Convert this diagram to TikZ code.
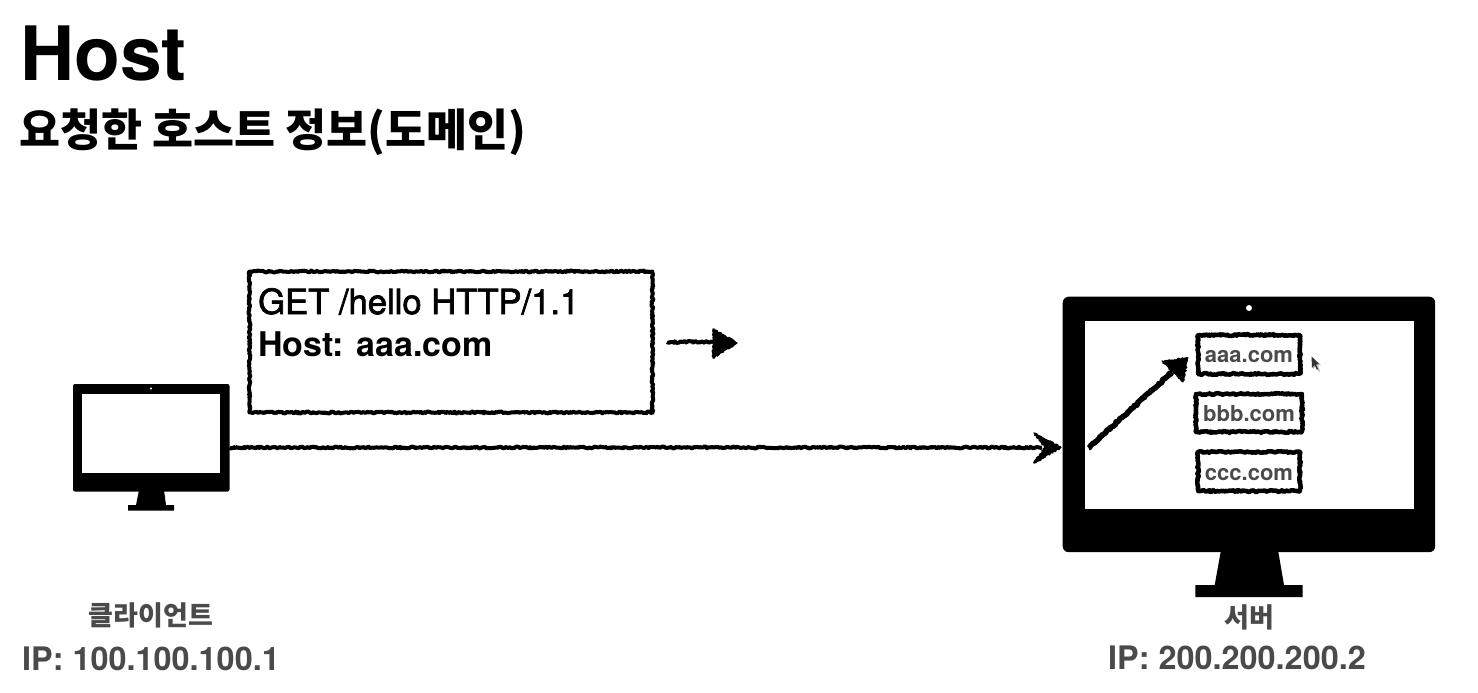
\documentclass[tikz,border=0pt]{standalone}
\usepackage{fontspec}
\setmainfont{TeX Gyre Heros}
\newfontfamily\krfont{Noto Sans CJK KR}
\usetikzlibrary{decorations.pathmorphing}
\definecolor{labelgray}{HTML}{4A4A4A}
\tikzset{
  x=1pt,y=-1pt,
  sketchy/.style={line join=round,decorate,decoration={random steps,segment length=1.4pt,amplitude=.9pt}},
  sketchbox/.style={draw=black,line width=#1,sketchy,fill=white,inner sep=0,outer sep=0,anchor=north west},
  sketchline/.style={draw=black,line width=#1,sketchy},
  sketchhead/.style={fill=black,draw=black,line width=1.2pt,sketchy},
  solidpart/.style={fill=black,draw=none},
  screenpart/.style={fill=white,draw=none,inner sep=0,outer sep=0,anchor=north west},
  bodypart/.style={fill=black,draw=none,inner sep=0,outer sep=0,anchor=north west,rounded corners=#1},
  txt/.style={inner sep=0,anchor=base west,text=black},
  domainlabel/.style={inner sep=0,anchor=base,text=labelgray,font=\fontsize{22}{22}\selectfont\bfseries},
  iplabel/.style={inner sep=0,anchor=base,text=labelgray,font=\fontsize{32.4}{32.4}\selectfont\bfseries},
  krlabel/.style={inner sep=0,anchor=base,text=labelgray,font=\krfont\fontsize{27}{27}\selectfont\bfseries},
}
\pgfmathsetseed{7}
\begin{document}
\begin{tikzpicture}
\useasboundingbox (0,0) rectangle (1478,693);
\fill[white] (0,0) rectangle (1478,693);
% titles
\node[txt,font=\fontsize{75}{75}\selectfont\bfseries] (title) at (20,81) {Host};
\node[txt,font=\krfont\fontsize{44.6}{44.6}\selectfont\bfseries] (subtitle) at (19,146) {요청한 호스트 정보(도메인)};
% client monitor
\fill[solidpart] (139,490) -- (164,490) -- (166,505) -- (174,505) -- (174,510.5) -- (128,510.5) -- (128,505) -- (136,505) -- cycle;
\node[bodypart=2pt,minimum width=156.5pt,minimum height=107.5pt] (client) at (73,384) {};
\node[screenpart,minimum width=138.5pt,minimum height=79pt] (clientscreen) at (81.5,394) {};
\fill[white] (151,388.5) circle (1.2);
% server monitor
\fill[solidpart] (1221,550) -- (1278,550) -- (1284,585) -- (1302.7,585) -- (1302.7,597) -- (1195.3,597) -- (1195.3,585) -- (1214.7,585) -- cycle;
\node[bodypart=6pt,minimum width=372.5pt,minimum height=255.5pt] (server) at (1062.7,296.7) {};
\node[screenpart,minimum width=329.5pt,minimum height=188pt] (serverscreen) at (1084.7,320.7) {};
\fill[white] (1249,308) circle (3);
% request box
\node[sketchbox=4pt,minimum width=403pt,minimum height=141pt] (request) at (249.5,271.5) {};
\node[txt,font=\fontsize{34.6}{34.6}\selectfont\addfontfeature{FakeBold=2}] (reqline) at (258,314) {GET /hello HTTP/1.1};
\node[txt,font=\fontsize{34}{34}\selectfont\bfseries] (hostline) at (258,356) {Host: aaa.com};
% domain boxes
\node[sketchbox=4.5pt,minimum width=102pt,minimum height=39pt] (aaa) at (1198,335) {};
\node[sketchbox=4.5pt,minimum width=106pt,minimum height=38pt] (bbb) at (1196,394) {};
\node[sketchbox=4.5pt,minimum width=102pt,minimum height=39pt] (ccc) at (1198,452) {};
\node[domainlabel] (aaatext) at (1249,362) {aaa.com};
\node[domainlabel] (bbbtext) at (1249,421) {bbb.com};
\node[domainlabel] (ccctext) at (1249,480) {ccc.com};
% free ends
\coordinate (smallstart) at (667,342);
\coordinate (smallend) at (716,342);
\coordinate (longend) at (1042,447.5);
\coordinate (diagstart) at (1088.5,448);
\coordinate (diagend) at (1172,372);
% connectors
\draw[sketchline=4pt] (smallstart) -- (smallend);
\fill[sketchhead] (737,343) -- (713,329) -- (713,358) -- cycle;
\draw[sketchline=4pt] (client.east |- longend) -- (longend);
\fill[sketchhead] (1061,447.5) -- (1034,433) -- (1045,447.5) -- (1034,463) -- cycle;
\draw[sketchline=5.5pt] (diagstart) -- (diagend);
\fill[sketchhead] (1188,358) -- (1162,361) -- (1183,382) -- cycle;
% pointer
\fill[black!25] (1313,358) -- (1313,369) -- (1316,366) -- (1319,372) -- (1320,371) -- (1318,365) -- (1321,365) -- cycle;
\fill[black!80] (1311.5,356.5) -- (1312,368) -- (1314.5,365) -- (1317,370) -- (1318,369) -- (1316,364.5) -- (1319,364) -- cycle;
% labels
\node[krlabel] (clientname) at (151,625) {클라이언트};
\node[iplabel] (clientip) at (151,670) {IP: 100.100.100.1};
\node[krlabel] (servername) at (1249,627) {서버};
\node[iplabel] (serverip) at (1237,669) {IP: 200.200.200.2};
\end{tikzpicture}
\end{document}
